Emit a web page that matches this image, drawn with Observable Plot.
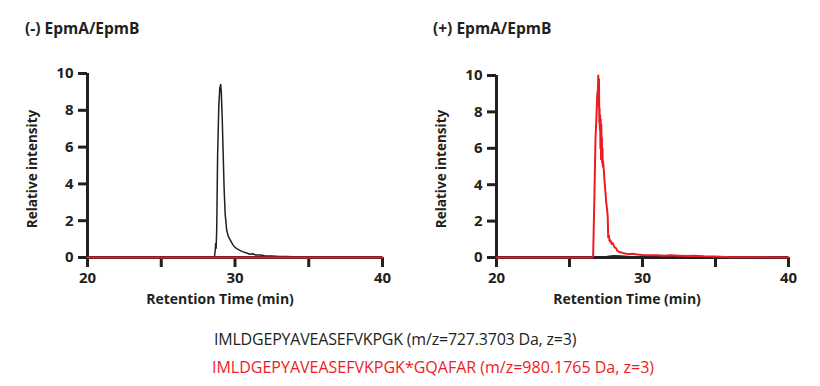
<!DOCTYPE html>
<html>
<head>
<meta charset="utf-8">
<script src="https://cdn.jsdelivr.net/npm/d3@7"></script>
<script src="https://cdn.jsdelivr.net/npm/@observablehq/plot@0.6"></script>
<style>
  html, body { margin: 0; padding: 0; background: #fff; }
  #wrap { position: relative; width: 820px; height: 386px; font-family: "Open Sans", sans-serif; color: #231f20; }
  .abs { position: absolute; white-space: nowrap; line-height: 1; }
  .title { font-size: 15.5px; font-weight: 700; }
  .xlab { font-size: 14px; font-weight: 700; transform: translateX(-50%); }
  .ylab { font-size: 13.5px; font-weight: 700; transform: translate(-50%, -50%) rotate(-90deg); }
  .cap { font-size: 16px; font-weight: 500; }
  svg text { font-weight: 700; }
</style>
</head>
<body>
<div id="wrap"></div>
<script>
// ---- data ----
const xTicks = [20, 25, 30, 35, 40];
const xTickLabels = ["20", "", "30", "", "40"];
const yTicks = [0, 2, 4, 6, 8, 10];

// (-) EpmA/EpmB : unmodified peptide (black), modified peptide (red)
const leftBlackT = [20, 28.6, 28.65, 28.69, 28.72, 28.76, 28.82, 28.9, 28.97, 29.03, 29.07, 29.14, 29.2, 29.26, 29.33, 29.44, 29.55, 29.7, 29.85, 30.0, 30.15, 30.3, 30.5, 30.65, 30.84, 31.0, 31.2, 31.4, 31.74, 32.0, 32.5, 33.0, 33.4, 34.0, 35.0, 40];
const leftBlackV = [0, 0, 0.3, 0.76, 0.5, 1.5, 5.5, 8.2, 9.2, 9.4, 9.0, 7.4, 5.6, 3.8, 2.4, 1.47, 1.15, 0.92, 0.7, 0.55, 0.47, 0.4, 0.32, 0.28, 0.23, 0.18, 0.2, 0.14, 0.14, 0.1, 0.08, 0.06, 0.05, 0.04, 0.02, 0];
const leftRedT = [20, 40];
const leftRedV = [0, 0];

// (+) EpmA/EpmB
const rightBlackT = [20, 27.3, 27.6, 28.0, 28.5, 29.0, 29.5, 30.0, 40];
const rightBlackV = [0, 0, 0.05, 0.1, 0.08, 0.05, 0.03, 0, 0];
const rightRedT = [20, 26.55, 26.62, 26.71, 26.78, 26.83, 26.9, 26.95, 26.97, 27.0, 27.02, 27.04, 27.06, 27.08, 27.1, 27.12, 27.14, 27.16, 27.18, 27.2, 27.22, 27.24, 27.26, 27.28, 27.3, 27.35, 27.4, 27.47, 27.52, 27.58, 27.62, 27.65, 27.7, 27.75, 27.81, 27.88, 27.95, 28.03, 28.1, 28.2, 28.27, 28.4, 28.55, 28.72, 28.9, 29.1, 29.3, 29.64, 30.0, 30.5, 31.0, 31.5, 31.92, 32.5, 33.0, 33.5, 34.2, 35.0, 36.0, 40];
const rightRedV = [0, 0, 0.1, 3.5, 6.5, 7.4, 8.9, 9.3, 10, 8.3, 9.8, 7.4, 8.2, 7.0, 7.8, 6.0, 7.6, 5.4, 7.3, 5.5, 6.6, 5.2, 6.0, 5.0, 5.3, 4.8, 4.2, 3.5, 3.0, 2.6, 2.2, 1.1, 1.2, 0.9, 0.93, 0.75, 0.8, 0.66, 0.55, 0.5, 0.38, 0.3, 0.28, 0.23, 0.2, 0.18, 0.2, 0.16, 0.14, 0.13, 0.12, 0.1, 0.12, 0.1, 0.08, 0.1, 0.07, 0.05, 0.02, 0];

const panelTitles = ["(-) EpmA/EpmB", "(+) EpmA/EpmB"];
const xLabel = "Retention Time (min)";
const yLabel = "Relative intensity";
const captionBlack = "IMLDGEPYAVEASEFVKPGK (m/z=727.3703 Da, z=3)";
const captionRed = "IMLDGEPYAVEASEFVKPGK*GQAFAR (m/z=980.1765 Da, z=3)";

const BLACK = "#231f20";
const RED = "#ed1c24";

function rows(t, v) { return t.map((d, i) => ({t: d, v: v[i]})); }

function panel(blackRows, redRows, m) {
  return Plot.plot({
    width: 410, height: 320,
    marginLeft: m.left, marginRight: m.right, marginTop: m.top, marginBottom: 63,
    style: {fontFamily: "Open Sans, sans-serif", fontSize: "15px", color: BLACK, background: "transparent"},
    x: {domain: [20, 40]},
    y: {domain: [0, 10]},
    marks: [
      Plot.axisX({ticks: xTicks, tickFormat: (d) => xTickLabels[xTicks.indexOf(d)], tickSize: 10, tickPadding: 5, strokeWidth: 3, stroke: BLACK, fill: BLACK, label: null}),
      Plot.axisY({ticks: yTicks, tickSize: 9, tickPadding: 5, strokeWidth: 3, stroke: BLACK, fill: BLACK, label: null}),
      Plot.ruleX([20], {y1: 0, y2: 10, stroke: BLACK, strokeWidth: 3}),
      Plot.ruleY([0], {x1: 20, x2: 40, stroke: BLACK, strokeWidth: 3}),
      Plot.line(blackRows, {x: "t", y: "v", stroke: BLACK, strokeWidth: 1.5, curve: "linear"}),
      Plot.line(redRows, {x: "t", y: "v", stroke: RED, strokeWidth: 2, curve: "linear"})
    ]
  });
}

const wrap = document.getElementById("wrap");
function addDiv(cls, text, css) {
  const d = document.createElement("div");
  d.className = "abs " + cls;
  d.textContent = text;
  Object.assign(d.style, css);
  wrap.appendChild(d);
  return d;
}

const p1 = panel(rows(leftBlackT, leftBlackV), rows(leftRedT, leftRedV), {left: 87, right: 28, top: 73});
Object.assign(p1.style, {position: "absolute", left: "0px", top: "0px"});
wrap.appendChild(p1);
const p2 = panel(rows(rightBlackT, rightBlackV), rows(rightRedT, rightRedV), {left: 86, right: 32, top: 75});
Object.assign(p2.style, {position: "absolute", left: "410px", top: "0px"});
wrap.appendChild(p2);

addDiv("title", panelTitles[0], {left: "25px", top: "21px"});
addDiv("title", panelTitles[1], {left: "433px", top: "21px"});
addDiv("xlab", xLabel, {left: "220px", top: "292px"});
addDiv("xlab", xLabel, {left: "627px", top: "292px"});
addDiv("ylab", yLabel, {left: "33px", top: "169px"});
addDiv("ylab", yLabel, {left: "442px", top: "169px"});
addDiv("cap", captionBlack, {left: "214px", top: "331px", color: BLACK, letterSpacing: "-0.2px"});
addDiv("cap", captionRed, {left: "212px", top: "359px", color: RED});
</script>
</body>
</html>
